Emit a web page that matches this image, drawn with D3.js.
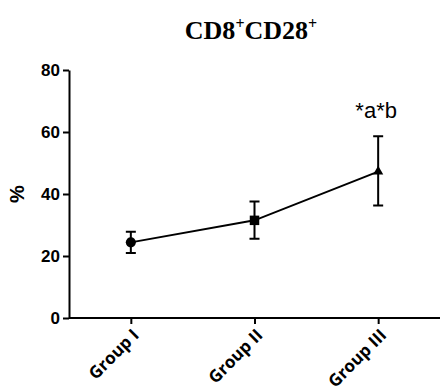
<!DOCTYPE html>
<html>
<head>
<meta charset="utf-8">
<script src="https://cdn.jsdelivr.net/npm/d3@7"></script>
<style>
  body { margin: 0; background: #fff; }
</style>
</head>
<body>
<div id="chart"></div>
<script>
// data
const groups = ["Group I", "Group II", "Group III"];
const means = [24.4, 31.5, 47.2];
const errLow = [21.0, 25.6, 36.3];
const errHigh = [27.8, 37.6, 58.6];
const markers = ["circle", "square", "triangle"];
const yTicks = [0, 20, 40, 60, 80];
const annotation = "*a*b";

const width = 441, height = 392;
const margin = { top: 70, right: 1, bottom: 74, left: 69 };

const svg = d3.select("#chart").append("svg")
  .attr("width", width)
  .attr("height", height);

const x = d3.scalePoint()
  .domain(groups)
  .range([margin.left, width - margin.right])
  .padding(0.5);

const y = d3.scaleLinear()
  .domain([0, 80])
  .range([height - margin.bottom, margin.top]);

// title
const title = svg.append("text")
  .attr("x", 251)
  .attr("y", 39)
  .attr("text-anchor", "middle")
  .style("font-family", "'Liberation Serif', 'DejaVu Serif', serif")
  .style("font-weight", "bold")
  .style("font-size", "26px");
title.append("tspan").text("CD8");
title.append("tspan").attr("dy", -10).style("font-size", "16px").text("+");
title.append("tspan").attr("dy", 10).text("CD28");
title.append("tspan").attr("dy", -10).style("font-size", "16px").text("+");

// y axis
const yAxis = svg.append("g")
  .attr("transform", `translate(${margin.left},0)`)
  .call(d3.axisLeft(y).tickValues(yTicks).tickSize(6).tickSizeOuter(0).tickPadding(3));
yAxis.select(".domain").attr("stroke-width", 2);
yAxis.selectAll(".tick line").attr("stroke-width", 2);
yAxis.selectAll(".tick text")
  .style("font-family", "'Liberation Sans', Arial, sans-serif")
  .style("font-weight", "bold")
  .style("font-size", "17px")
  .attr("fill", "#000");

// x axis
const xAxis = svg.append("g")
  .attr("transform", `translate(0,${y(0)})`)
  .call(d3.axisBottom(x).tickSize(6).tickSizeOuter(0).tickFormat(() => ""));
xAxis.select(".domain")
  .attr("d", `M${margin.left},0H${width - margin.right}`)
  .attr("stroke-width", 2);
xAxis.selectAll(".tick line").attr("stroke-width", 2);

svg.append("g").selectAll("text")
  .data(groups)
  .join("text")
  .attr("transform", d => `translate(${x(d) + 5},${y(0) + 14}) rotate(-45)`)
  .attr("text-anchor", "end")
  .attr("dy", "0.35em")
  .style("font-family", "'Open Sans', 'Liberation Sans', sans-serif")
  .style("font-weight", "bold")
  .style("font-size", "17px")
  .text(d => d);

// y label
svg.append("text")
  .attr("transform", `translate(24,${y(40)}) rotate(-90)`)
  .attr("text-anchor", "middle")
  .style("font-family", "'Liberation Sans', Arial, sans-serif")
  .style("font-weight", "bold")
  .style("font-size", "20px")
  .text("%");

// line
const line = d3.line()
  .x((d, i) => x(groups[i]))
  .y(d => y(d));
svg.append("path")
  .datum(means)
  .attr("fill", "none")
  .attr("stroke", "#000")
  .attr("stroke-width", 2)
  .attr("d", line);

// error bars
const capW = 5;
const eb = svg.append("g").attr("stroke", "#000").attr("stroke-width", 2).attr("fill", "none");
groups.forEach((g, i) => {
  const cx = x(g);
  eb.append("path")
    .attr("d", `M${cx},${y(errLow[i])}V${y(errHigh[i])}M${cx - capW},${y(errHigh[i])}H${cx + capW}M${cx - capW},${y(errLow[i])}H${cx + capW}`);
});

// markers
const symType = { circle: d3.symbolCircle, square: d3.symbolSquare, triangle: d3.symbolTriangle };
const symSize = { circle: 80, square: 90, triangle: 45 };
svg.append("g").selectAll("path")
  .data(means)
  .join("path")
  .attr("transform", (d, i) => `translate(${x(groups[i])},${y(d)})`)
  .attr("d", (d, i) => d3.symbol().type(symType[markers[i]]).size(symSize[markers[i]])())
  .attr("fill", "#000");

// significance label
svg.append("text")
  .attr("x", x(groups[2]) - 2)
  .attr("y", y(errHigh[2]) - 18)
  .attr("text-anchor", "middle")
  .style("font-family", "'Liberation Sans', Arial, sans-serif")
  .style("font-size", "22px")
  .text(annotation);
</script>
</body>
</html>
